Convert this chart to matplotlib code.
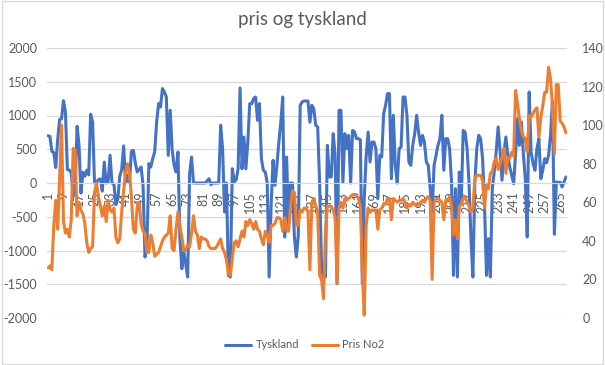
import matplotlib.pyplot as plt
import matplotlib.patches as patches

# Tyskland (left axis)
tyskland = [
    700, 690, 470, 450, 230, 640, 940, 950, 1220, 1050,
    200, 190, 150, -190, -60, 840, 560, -150, 160, 100,
    190, 120, 1020, 900, 0, 10, 50, 60, -120, 310,
    0, 20, 410, 0, -20, -320, -240, 100, 200, 550,
    0, 120, 0, 470, 484, 300, 163, 200, 237, -35,
    -1097, -950, 287, 237, 360, 460, 900, 1176, 1126, 1398,
    1350, 1275, 410, 1077, 500, 262, 163, 460, -825, -1270,
    -1020, -1200, -1393, 138, 385, 0, 0, 0, 0, 0,
    0, 0, 30, 64, -25, 0, 0, 0, 0, 855,
    509, -430, 0, -1368, -1393, 212, 15, 50, 212, 1408,
    212, 680, 212, 607, 1176, 1176, 1250, 1274, 929, 1176,
    360, 188, 163, 0, -1393, -330, 336, -35, 262, 607,
    904, 1274, -800, 385, -627, 0, 0, -800, -1097, -776,
    1151, 1200, 1215, 1215, 1215, 900, 1151, 1100, 855, 830,
    0, -1270, -1393, -1393, 558, 89, 89, 731, 410, -1492,
    1077, 1077, 15, 731, 509, 706, 0, 780, 755, 657,
    657, 640, -1492, -232, 400, 755, 311, 607, 607, 509,
    -232, 410, 385, 1027, 1151, 1324, 1324, 64, 1003, 262,
    0, 509, 534, 1274, 1274, 1003, 311, 262, 558, 731,
    1003, 755, 558, 706, 607, 311, 262, -84, -430, 262,
    410, 558, 657, 1003, 188, 657, 657, 509, 0, -1368,
    -84, -1393, 163, -282, 780, 755, 509, 0, -825, -1393,
    0, 509, 706, 657, 360, -330, -1368, -825, -1393, -84,
    163, 460, 830, 484, 40, 460, 682, 410, 237, 114,
    -10, 435, 953, 558, 904, 435, 64, -800, 1349, 460,
    287, 188, 509, 657, 64, 188, 360, 300, 410, 706,
    1210, -760, 15, 10, 10, -59, 20, 89,
]

# Pris No2 (right axis)
pris_no2 = [
    26, 27, 25, 48, 61, 46, 72, 100, 50, 44,
    46, 42, 51, 88, 87, 53, 60, 56, 54, 49,
    39, 34, 36, 37, 65, 70, 63, 58, 53, 58,
    50, 61, 56, 55, 57, 42, 39, 41, 55, 66,
    76, 80, 75, 63, 46, 44, 58, 60, 49, 45,
    44, 34, 34, 43, 39, 32, 33, 34, 37, 40,
    42, 43, 44, 53, 36, 35, 46, 55, 48, 42,
    35, 35, 38, 37, 44, 53, 45, 43, 36, 42,
    41, 41, 40, 37, 36, 36, 36, 37, 39, 41,
    36, 34, 30, 23, 22, 31, 39, 40, 37, 41,
    45, 42, 50, 48, 51, 49, 46, 50, 46, 45,
    41, 38, 45, 43, 39, 48, 48, 49, 52, 52,
    51, 45, 52, 45, 45, 58, 66, 65, 48, 48,
    56, 55, 57, 57, 55, 25, 60, 62, 58, 55,
    22, 20, 10, 45, 58, 58, 58, 56, 52, 18,
    57, 60, 57, 62, 61, 62, 63, 64, 64, 64,
    62, 58, 24, 1.5, 48, 57, 55, 56, 56, 56,
    46, 56, 57, 59, 59, 62, 62, 51, 62, 61,
    60, 61, 61, 62, 60, 57, 59, 58, 60, 59,
    58, 59, 60, 61, 60, 62, 63, 61, 20, 60,
    62, 62, 61, 60, 51, 61, 61, 63, 58, 43,
    51, 41, 58, 59, 62, 63, 60, 58, 55, 57,
    72, 74, 74, 74, 71, 57, 69, 67, 75, 76,
    81, 83, 77, 80, 83, 88, 75, 83, 83, 86,
    84, 118, 111, 103, 97, 94, 93, 86, 105, 104,
    106, 108, 109, 94, 104, 110, 117, 117, 130, 124,
    110, 85, 121, 121, 102, 101, 99, 96,
]

categories = list(range(1, len(tyskland) + 1))
tick_cats = categories[::8]

plt.rcParams['font.family'] = ['Lato', 'DejaVu Sans']
plt.rcParams['axes.unicode_minus'] = False
text_color = '#595959'
grid_color = '#D9D9D9'

fig = plt.figure(figsize=(6.05, 3.65), dpi=100)
ax = fig.add_axes([47 / 605, 1 - 318 / 365, 520 / 605, 270 / 365])

# blue series on the primary axis
ax.plot(categories, tyskland, color='#4472C4', lw=2.2, label='Tyskland',
        solid_joinstyle='round', solid_capstyle='round')
ax.set_xlim(0.5, len(categories) + 0.5)
ax.set_ylim(-2000, 2000)
ax.set_yticks(range(-2000, 2001, 500))
ax.grid(axis='y', color=grid_color, lw=0.9)
ax.set_axisbelow(True)
for s in ax.spines.values():
    s.set_visible(False)
ax.spines['bottom'].set_visible(True)
ax.spines['bottom'].set_position(('data', 0))
ax.spines['bottom'].set_color(grid_color)
ax.set_xticks(tick_cats)
ax.set_xticklabels([str(c) for c in tick_cats], rotation=90)
ax.tick_params(axis='x', length=0, pad=6, labelsize=9, colors=text_color)
ax.tick_params(axis='y', length=0, pad=7, labelsize=9, colors=text_color)

# orange series on the secondary axis
ax2 = ax.twinx()
ax2.plot(categories, pris_no2, color='#ED7D31', lw=2.2, label='Pris No2',
         solid_joinstyle='round', solid_capstyle='round')
ax2.set_ylim(0, 140)
ax2.set_yticks(range(0, 141, 20))
for s in ax2.spines.values():
    s.set_visible(False)
ax2.tick_params(axis='y', length=0, pad=11, labelsize=9, colors=text_color)

fig.text(0.5, 1 - 20 / 365, 'pris og tyskland', ha='center', va='center',
         fontsize=13.5, color=text_color)

h1, l1 = ax.get_legend_handles_labels()
h2, l2 = ax2.get_legend_handles_labels()
leg = fig.legend(h1 + h2, l1 + l2, loc='center', bbox_to_anchor=(305 / 605, 1 - 345 / 365),
                 ncol=2, frameon=False, fontsize=8, handlelength=2.3,
                 columnspacing=1.2, handletextpad=0.4)
for t in leg.get_texts():
    t.set_color(text_color)

# chart border
fig.patches.append(patches.Rectangle((0.003, 0.003), 0.994, 0.994, transform=fig.transFigure,
                                     fill=False, edgecolor=grid_color, lw=1))

fig.savefig('out.png', dpi=100)
